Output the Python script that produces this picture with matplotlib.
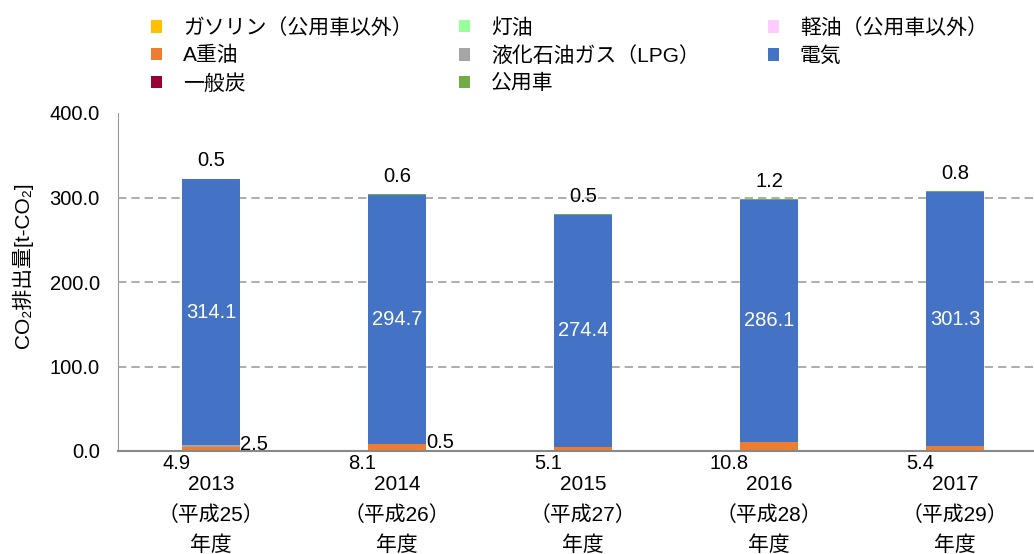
import matplotlib
matplotlib.use("Agg")
import matplotlib.pyplot as plt
from matplotlib.patches import Patch
import numpy as np

plt.rcParams['font.family'] = ['Liberation Sans', 'Noto Sans CJK JP', 'DejaVu Sans']

years = ['2013', '2014', '2015', '2016', '2017']
heisei = ['平成25', '平成26', '平成27', '平成28', '平成29']

gasoline = [0.0, 0.0, 0.0, 0.0, 0.0]
kerosene = [0.0, 0.0, 0.0, 0.0, 0.0]
diesel = [0.0, 0.0, 0.0, 0.0, 0.0]
a_heavy = [4.9, 8.1, 5.1, 10.8, 5.4]
lpg = [2.5, 0.5, 0.0, 0.0, 0.0]
electricity = [314.1, 294.7, 274.4, 286.1, 301.3]
coal = [0.0, 0.0, 0.0, 0.0, 0.0]
official = [0.5, 0.6, 0.5, 1.2, 0.8]

series_names = ['ガソリン（公用車以外）', '灯油', '軽油（公用車以外）', 'A重油',
                '液化石油ガス（LPG）', '電気', '一般炭', '公用車']
series_values = [gasoline, kerosene, diesel, a_heavy, lpg, electricity, coal, official]
series_colors = ['#FFC000', '#99FF99', '#FFCCFF', '#ED7D31',
                 '#A5A5A5', '#4472C4', '#990033', '#70AD47']

FS = 14.5

fig = plt.figure(figsize=(10.34, 5.54), dpi=100)
ax = fig.add_axes([118/1034, 103/554, 930/1034, 338/554])

x = np.arange(len(years))
width = 0.31
bottom = np.zeros(len(years))
bottoms = {}
for name, vals, col in zip(series_names, series_values, series_colors):
    v = np.array(vals)
    ax.bar(x, v, width, bottom=bottom, color=col, zorder=2)
    bottoms[name] = bottom.copy()
    bottom = bottom + v
totals = bottom

ax.set_xlim(-0.5, len(years) - 0.5)
ax.set_ylim(0, 400)
yt = [0, 100, 200, 300, 400]
ax.set_yticks(yt)
ax.set_yticklabels([f'{t:.1f}' for t in yt], fontsize=FS)
ax.tick_params(axis='y', length=0, pad=13)
ax.set_xticks(x)
ax.set_xticklabels([f'{y}\n（{h}）\n年度' for y, h in zip(years, heisei)],
                   fontsize=15, linespacing=1.7)
ax.tick_params(axis='x', length=0, pad=17)

for yv in [100, 200, 300]:
    ax.axhline(yv, color='#A0A0A0', linewidth=1.2, linestyle=(0, (5, 3)), zorder=1)

for s in ['top', 'right']:
    ax.spines[s].set_visible(False)
ax.spines['left'].set_color('#999999')
ax.spines['bottom'].set_color('#888888')
ax.spines['bottom'].set_linewidth(1.5)

ax.set_ylabel('CO₂排出量[t-CO₂]', fontsize=15)
ax.yaxis.set_label_coords(-0.091, 0.55)

for i in range(len(years)):
    b0 = bottoms['電気'][i]
    ax.text(x[i], b0 + electricity[i] / 2, f'{electricity[i]:.1f}', color='white',
            ha='center', va='center', fontsize=FS, zorder=3)
    ax.annotate(f'{a_heavy[i]:.1f}', xy=(x[i] - width / 2, 0), xytext=(6, -9),
                textcoords='offset points', ha='right', va='center', fontsize=FS)
    if lpg[i] > 0:
        b0 = bottoms['液化石油ガス（LPG）'][i]
        ax.annotate(f'{lpg[i]:.1f}', xy=(x[i] + width / 2, b0 + lpg[i] / 2), xytext=(0, 1),
                    textcoords='offset points', ha='left', va='center', fontsize=FS)
    ax.annotate(f'{official[i]:.1f}', xy=(x[i], totals[i]), xytext=(0, 13),
                textcoords='offset points', ha='center', va='center', fontsize=FS)

handles = [Patch(facecolor=c, edgecolor='none') for c in series_colors]
cols = [[0, 3, 6], [1, 4, 7], [2, 5]]
col_x = [151, 459, 768]
for cx, idxs in zip(col_x, cols):
    fig.legend([handles[k] for k in idxs], [series_names[k] for k in idxs],
               loc='upper left', bbox_to_anchor=(cx / 1034, 1 - 18 / 554),
               frameon=False, fontsize=15, handlelength=0.53, handleheight=0.53,
               handletextpad=1.0, labelspacing=0.4, borderpad=0, borderaxespad=0)

fig.savefig('out.png', dpi=100)
